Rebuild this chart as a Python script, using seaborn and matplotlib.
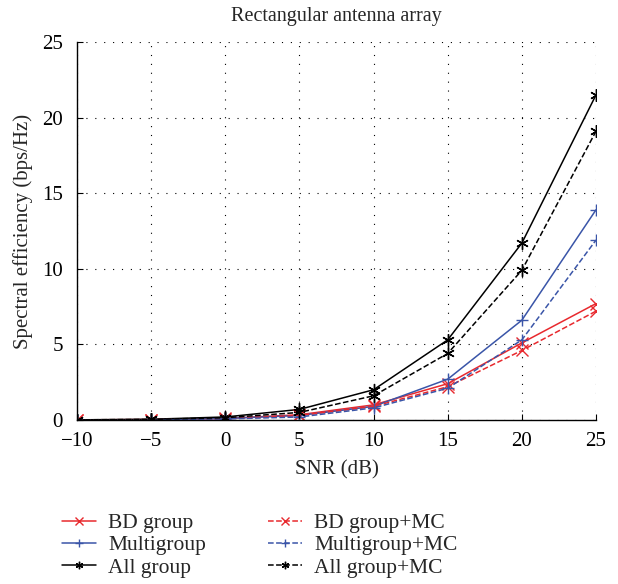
import numpy as np
import pandas as pd
import matplotlib
matplotlib.use("Agg")
import matplotlib.pyplot as plt
import seaborn as sns

snr = [-10, -5, 0, 5, 10, 15, 20, 25]
bd_group = [0.01, 0.03, 0.1, 0.35, 1.0, 2.4, 5.1, 7.7]
bd_group_mc = [0.01, 0.02, 0.08, 0.3, 0.9, 2.2, 4.6, 7.2]
multigroup = [0.01, 0.02, 0.1, 0.3, 0.9, 2.7, 6.6, 13.9]
multigroup_mc = [0.0, 0.02, 0.07, 0.2, 0.8, 2.1, 5.3, 11.9]
all_group = [0.01, 0.05, 0.2, 0.7, 2.0, 5.3, 11.7, 21.5]
all_group_mc = [0.01, 0.04, 0.15, 0.5, 1.6, 4.4, 9.9, 19.1]

series = [
    ("BD group", bd_group, "#e8292e", "x", "-"),
    ("Multigroup", multigroup, "#3a55a8", "+", "-"),
    ("All group", all_group, "black", (6, 2, 0), "-"),
    ("BD group+MC", bd_group_mc, "#e8292e", "x", "--"),
    ("Multigroup+MC", multigroup_mc, "#3a55a8", "+", "--"),
    ("All group+MC", all_group_mc, "black", (6, 2, 0), "--"),
]

sns.set_style("white")
plt.rcParams["font.family"] = ["Liberation Serif", "DejaVu Serif"]

fig = plt.figure(figsize=(6.18, 5.84), dpi=100)
ax = fig.add_axes([77 / 618, 1 - 420 / 584, (596 - 77) / 618, (420 - 42) / 584])

for name, vals, color, marker, ls in series:
    df = pd.DataFrame({"snr": snr, "val": vals})
    sns.lineplot(data=df, x="snr", y="val", ax=ax, color=color, marker=marker,
                 markersize=9, linewidth=1.1, linestyle=ls,
                 markeredgecolor=color, markerfacecolor="none",
                 markeredgewidth=1.0, label=name, legend=False)

ax.set_xlim(-10, 25)
ax.set_ylim(0, 25)
ax.set_xticks(snr)
ax.set_xticklabels(["\u221210", "\u22125", "0", "5", "10", "15", "20", "25"])
ax.set_yticks([0, 5, 10, 15, 20, 25])
ax.grid(True, linestyle=(0, (1, 7)), color="black", linewidth=0.8)
ax.tick_params(direction="in", length=4, labelsize=15, colors="black",
               bottom=True, left=True)
ax.tick_params(axis="x", pad=9)
ax.tick_params(axis="y", pad=10)
for side in ["top", "right"]:
    ax.spines[side].set_visible(False)
for side in ["left", "bottom"]:
    ax.spines[side].set_color("black")
    ax.spines[side].set_linewidth(1.0)

ax.set_title("Rectangular antenna array", fontsize=14.5, pad=15)
ax.set_xlabel("SNR (dB)", fontsize=15, labelpad=6)
ax.set_ylabel("Spectral efficiency (bps/Hz)", fontsize=15, labelpad=7)

h, l = ax.get_legend_handles_labels()
common = dict(loc="upper left", frameon=False, fontsize=15.5, borderpad=0,
              borderaxespad=0, handlelength=1.6, handletextpad=0.55,
              labelspacing=0.1, markerscale=0.6)
fig.legend(h[:3], l[:3], bbox_to_anchor=(62 / 618, 1 - 513 / 584), **common)
fig.legend(h[3:], l[3:], bbox_to_anchor=(268 / 618, 1 - 513 / 584), **common)

fig.savefig("out.png", dpi=100)
